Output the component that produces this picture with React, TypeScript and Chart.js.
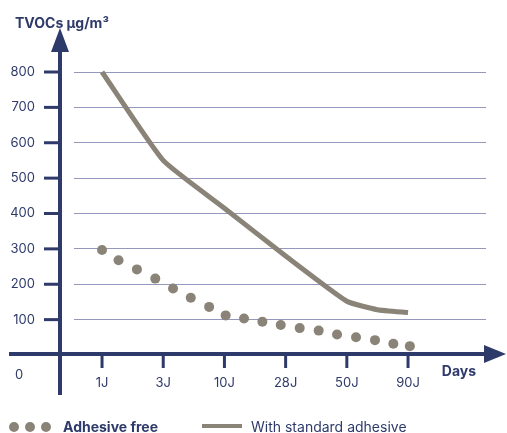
import React, { useEffect, useRef } from "react";
import { Chart, registerables } from "chart.js";

Chart.register(...registerables);

// ---- Data ----
const xTickLabels = ["1J", "3J", "10J", "28J", "50J", "90J"];
const xTickPositions = [1, 2, 3, 4, 5, 6];
const yTickValues = [100, 200, 300, 400, 500, 600, 700, 800];

const adhesiveFreeX = [1.0, 1.27, 1.57, 1.87, 2.16, 2.45, 2.75, 3.02, 3.32, 3.62, 3.92, 4.23, 4.54, 4.84, 5.15, 5.46, 5.76, 6.03];
const adhesiveFreeY = [297, 268, 242, 216, 188, 162, 136, 112, 103, 94, 85, 76, 69, 58, 50, 42, 32, 25];

const standardX = [1, 2, 3, 4, 5, 5.5, 6];
const standardY = [800, 550, 415, 280, 152, 128, 120];

const seriesNames = ["Adhesive free", "With standard adhesive"];
const yTitle = "TVOCs µg/m³";
const xTitle = "Days";
const originLabel = "0";

// ---- Styles ----
const NAVY = "#2e3a6a";
const GRAY = "#8a8378";
const GRID = "#9498bd";
const FONT = "Inter, 'DejaVu Sans', sans-serif";

const axesPlugin = {
  id: "arrowAxes",
  beforeDatasetsDraw(chart: any) {
    const { ctx, chartArea: a, scales } = chart;
    const x = scales.x;
    const y = scales.y;
    const axisX = a.left - 14;
    const axisY = y.getPixelForValue(0) - 1;
    ctx.save();
    ctx.strokeStyle = NAVY;
    ctx.fillStyle = NAVY;
    ctx.lineCap = "butt";
    // y axis
    ctx.lineWidth = 4;
    ctx.beginPath();
    ctx.moveTo(axisX, axisY + 41);
    ctx.lineTo(axisX, a.top - 22);
    ctx.stroke();
    ctx.beginPath();
    ctx.moveTo(axisX, a.top - 44);
    ctx.lineTo(axisX - 9, a.top - 20);
    ctx.lineTo(axisX + 9, a.top - 20);
    ctx.closePath();
    ctx.fill();
    // x axis
    ctx.beginPath();
    ctx.moveTo(9, axisY);
    ctx.lineTo(a.right, axisY);
    ctx.stroke();
    ctx.beginPath();
    ctx.moveTo(a.right + 20, axisY);
    ctx.lineTo(a.right - 2, axisY - 9);
    ctx.lineTo(a.right - 2, axisY + 9);
    ctx.closePath();
    ctx.fill();
    // tick marks
    ctx.lineWidth = 3;
    yTickValues.forEach((v) => {
      const py = y.getPixelForValue(v);
      ctx.beginPath();
      ctx.moveTo(axisX - 16, py);
      ctx.lineTo(axisX, py);
      ctx.stroke();
    });
    xTickPositions.forEach((v) => {
      const px = x.getPixelForValue(v);
      ctx.beginPath();
      ctx.moveTo(px, axisY);
      ctx.lineTo(px, axisY + 14);
      ctx.stroke();
    });
    // texts
    ctx.textAlign = "center";
    ctx.textBaseline = "middle";
    ctx.font = `13px ${FONT}`;
    ctx.fillText(originLabel, 19, axisY + 21);
    ctx.font = `bold 14px ${FONT}`;
    ctx.fillText(xTitle, a.right - 27, axisY + 18);
    ctx.restore();
  },
};

export default function App() {
  const canvasRef = useRef<HTMLCanvasElement | null>(null);

  useEffect(() => {
    const canvas = canvasRef.current;
    if (!canvas) return;
    const chart = new Chart(canvas, {
      type: "scatter",
      data: {
        datasets: [
          {
            label: seriesNames[0],
            data: adhesiveFreeX.map((xv, i) => ({ x: xv, y: adhesiveFreeY[i] })),
            showLine: false,
            pointRadius: 5,
            pointHoverRadius: 5,
            pointBackgroundColor: GRAY,
            pointBorderWidth: 0,
            backgroundColor: GRAY,
            borderColor: GRAY,
            clip: false as any,
            order: 1,
          },
          {
            label: seriesNames[1],
            data: standardX.map((xv, i) => ({ x: xv, y: standardY[i] })),
            showLine: true,
            borderColor: GRAY,
            backgroundColor: GRAY,
            borderWidth: 5,
            pointRadius: 0,
            tension: 0.15,
            clip: false as any,
            order: 2,
          },
        ],
      },
      options: {
        responsive: false,
        animation: false,
        events: [],
        layout: { padding: { left: 0, right: 21, top: 72, bottom: 0 } },
        plugins: {
          legend: { display: false },
          tooltip: { enabled: false },
          title: { display: false },
        },
        scales: {
          x: {
            type: "linear",
            min: 0.542,
            max: 7.274,
            afterBuildTicks: (scale: any) => {
              scale.ticks = xTickPositions.map((v) => ({ value: v }));
            },
            afterFit: (scale: any) => {
              scale.height = 78;
            },
            ticks: {
              autoSkip: false,
              maxRotation: 0,
              padding: 20,
              color: NAVY,
              font: { family: FONT, size: 13 },
              callback: (v: any) => {
                const i = xTickPositions.indexOf(Number(v));
                return i >= 0 ? xTickLabels[i] : "";
              },
            },
            grid: { display: false, drawTicks: false },
            border: { display: false },
          },
          y: {
            type: "linear",
            min: 0,
            max: 800,
            afterBuildTicks: (scale: any) => {
              scale.ticks = yTickValues.map((v) => ({ value: v }));
            },
            afterFit: (scale: any) => {
              scale.width = 74;
            },
            ticks: {
              padding: 39,
              color: NAVY,
              font: { family: FONT, size: 13 },
            },
            grid: { color: GRID, lineWidth: 1, drawTicks: false },
            border: { display: false },
          },
        },
      },
      plugins: [axesPlugin],
    } as any);
    return () => chart.destroy();
  }, []);

  const textStyle: React.CSSProperties = {
    position: "absolute",
    top: 418,
    fontFamily: FONT,
    fontSize: 14,
    lineHeight: "17px",
    color: NAVY,
    whiteSpace: "nowrap",
  };
  const dot = (cx: number): React.CSSProperties => ({
    position: "absolute",
    left: cx - 5,
    top: 422,
    width: 10,
    height: 10,
    borderRadius: "50%",
    background: GRAY,
  });

  return (
    <div style={{ position: "absolute", left: 0, top: 0, width: 507, height: 433, background: "#fff", overflow: "hidden" }}>
      <canvas ref={canvasRef} width={507} height={433} style={{ display: "block", width: 507, height: 433 }} />
      <div
        style={{
          position: "absolute",
          left: 15,
          top: 14,
          fontFamily: FONT,
          fontSize: 14,
          fontWeight: 700,
          lineHeight: "17px",
          color: NAVY,
          whiteSpace: "nowrap",
        }}
      >
        {yTitle}
      </div>
      <div style={dot(14)} />
      <div style={dot(30)} />
      <div style={dot(46)} />
      <div style={{ ...textStyle, left: 63, fontWeight: 700 }}>{seriesNames[0]}</div>
      <div style={{ position: "absolute", left: 202, top: 424, width: 40, height: 4, background: GRAY }} />
      <div style={{ ...textStyle, left: 251 }}>{seriesNames[1]}</div>
    </div>
  );
}
